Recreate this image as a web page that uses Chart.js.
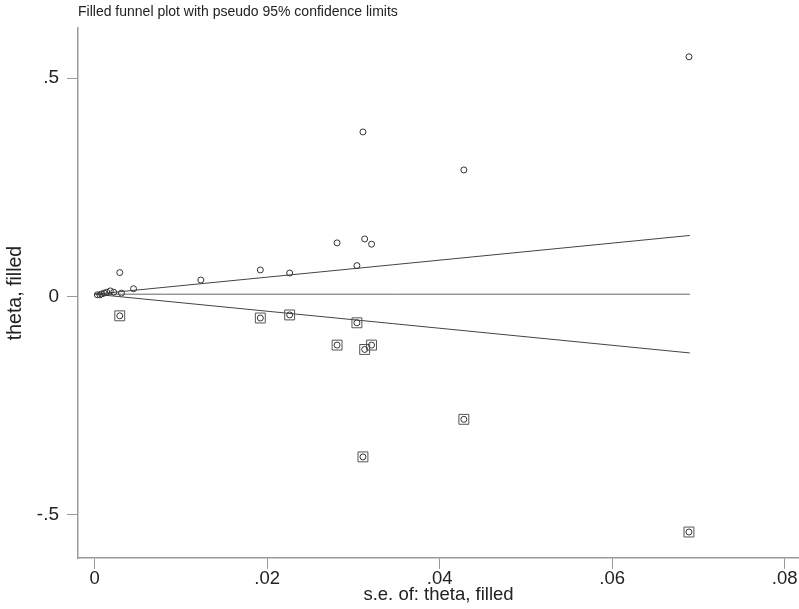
<!DOCTYPE html>
<html>
<head>
<meta charset="utf-8">
<script src="https://cdn.jsdelivr.net/npm/chart.js@4.4.1/dist/chart.umd.min.js"></script>
<style>
  html, body { margin: 0; padding: 0; background: #fff; }
  #wrap { width: 799px; height: 609px; }
</style>
</head>
<body>
<div id="wrap"><canvas id="funnel" width="799" height="609"></canvas></div>
<script>
// observed studies (se, theta)
const observedSe = [0.0689, 0.0311, 0.0428, 0.0281, 0.0313, 0.0321, 0.0304, 0.0226, 0.0192, 0.0123,
                    0.0029, 0.0045, 0.0031, 0.0022, 0.0018, 0.0014, 0.0011, 0.0008, 0.0006, 0.0003];
const observedTheta = [0.549, 0.377, 0.290, 0.123, 0.132, 0.120, 0.071, 0.054, 0.061, 0.038,
                       0.055, 0.018, 0.008, 0.010, 0.013, 0.010, 0.008, 0.006, 0.004, 0.004];

// filled (imputed) studies
const filledSe = [0.0029, 0.0192, 0.0226, 0.0304, 0.0281, 0.0313, 0.0321, 0.0428, 0.0311, 0.0689];
const filledTheta = [-0.044, -0.049, -0.042, -0.060, -0.111, -0.121, -0.111, -0.281, -0.367, -0.539];

// pooled estimate and pseudo 95% limits
const funnelSe = [0, 0.069];
const pooledTheta = [0.0055, 0.0055];
const upperTheta = [0.0055, 0.140];
const lowerTheta = [0.0055, -0.129];

const xTicks = [0, 0.02, 0.04, 0.06, 0.08];
const yTicks = [-0.5, 0, 0.5];

const FONT = 'Liberation Sans, Arial, sans-serif';

function pts(xs, ys) {
    return xs.map(function (x, i) { return { x: x, y: ys[i] }; });
}

function fmt(v) {
    if (v === 0) return '0';
    return String(v).replace('0.', '.');
}

const titlePlugin = {
    id: 'plotTitle',
    afterDraw: function (chart) {
        const ctx = chart.ctx;
        ctx.save();
        ctx.font = '14px ' + FONT;
        ctx.fillStyle = '#222';
        ctx.textBaseline = 'middle';
        ctx.fillText('Filled funnel plot with pseudo 95% confidence limits', 78, 12);
        ctx.restore();
    }
};

const ctx = document.getElementById('funnel').getContext('2d');
new Chart(ctx, {
    type: 'scatter',
    data: {
        datasets: [
            {
                data: pts(observedSe, observedTheta),
                pointStyle: 'circle',
                pointRadius: 3,
                borderColor: '#333',
                borderWidth: 1,
                backgroundColor: 'rgba(0,0,0,0)'
            },
            {
                data: pts(filledSe, filledTheta),
                pointStyle: 'circle',
                pointRadius: 3,
                borderColor: '#333',
                borderWidth: 1,
                backgroundColor: 'rgba(0,0,0,0)'
            },
            {
                data: pts(filledSe, filledTheta),
                pointStyle: 'rect',
                pointRadius: 7,
                borderColor: '#555',
                borderWidth: 1,
                backgroundColor: 'rgba(0,0,0,0)'
            },
            {
                data: pts(funnelSe, upperTheta),
                showLine: true,
                pointRadius: 0,
                borderColor: '#444',
                borderWidth: 1
            },
            {
                data: pts(funnelSe, lowerTheta),
                showLine: true,
                pointRadius: 0,
                borderColor: '#444',
                borderWidth: 1
            },
            {
                data: pts(funnelSe, pooledTheta),
                showLine: true,
                pointRadius: 0,
                borderColor: '#666',
                borderWidth: 1
            }
        ]
    },
    options: {
        responsive: false,
        animation: false,
        layout: { autoPadding: false, padding: { top: 28, left: 0, right: 0, bottom: 0 } },
        plugins: {
            legend: { display: false },
            tooltip: { enabled: false }
        },
        scales: {
            x: {
                type: 'linear',
                min: -0.00194,
                max: 0.08166,
                afterFit: function (scale) {
                    scale.height = 51;
                    scale.paddingLeft = 0;
                    scale.paddingRight = 0;
                },
                afterBuildTicks: function (scale) {
                    scale.ticks = xTicks.map(function (v) { return { value: v }; });
                },
                ticks: {
                    autoSkip: false,
                    maxRotation: 0,
                    padding: -1,
                    color: '#222',
                    font: { family: FONT, size: 18.5 },
                    callback: function (v) { return fmt(v); }
                },
                grid: {
                    drawOnChartArea: false,
                    drawTicks: true,
                    tickLength: 11,
                    color: '#999'
                },
                border: { color: '#9a9a9a', width: 1.5 },
                title: {
                    display: true,
                    text: 's.e. of: theta, filled',
                    color: '#222',
                    font: { family: FONT, size: 18.5 },
                    padding: { top: 0, bottom: 3 }
                }
            },
            y: {
                type: 'linear',
                min: -0.5985,
                max: 0.615,
                afterFit: function (scale) {
                    scale.width = 78;
                    scale.paddingTop = 0;
                    scale.paddingBottom = 0;
                },
                afterBuildTicks: function (scale) {
                    scale.ticks = yTicks.map(function (v) { return { value: v }; });
                },
                ticks: {
                    autoSkip: false,
                    padding: 8,
                    color: '#222',
                    font: { family: FONT, size: 19 },
                    callback: function (v) { return fmt(v); }
                },
                grid: {
                    drawOnChartArea: false,
                    drawTicks: true,
                    tickLength: 11,
                    color: '#999'
                },
                border: { color: '#9a9a9a', width: 1.5 },
                title: {
                    display: true,
                    text: 'theta, filled',
                    color: '#222',
                    font: { family: FONT, size: 19.5 },
                    padding: { top: 4, bottom: 0 }
                }
            }
        }
    },
    plugins: [titlePlugin]
});
</script>
</body>
</html>
